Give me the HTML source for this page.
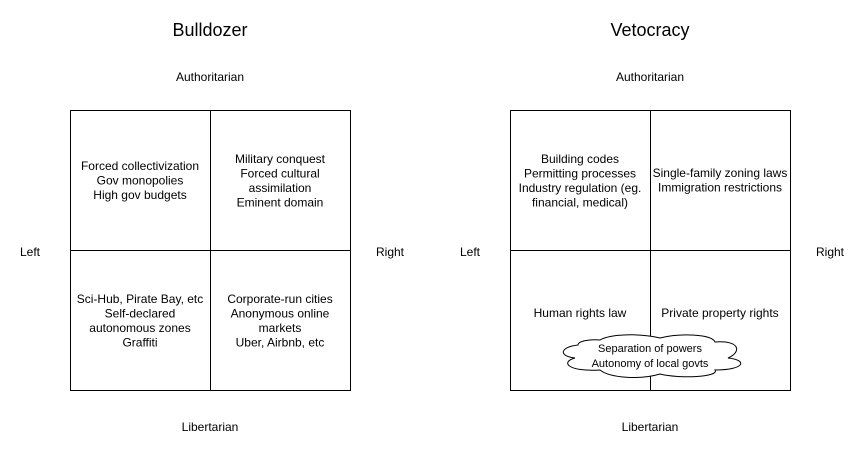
<!DOCTYPE html>
<html><head><style>body{margin:0;background:#fff}</style></head><body>
<svg width="861" height="451" xmlns="http://www.w3.org/2000/svg" font-family="Liberation Sans, sans-serif" font-size="12" text-anchor="middle" fill="#000">
<rect width="861" height="451" fill="#fff"/>
<g fill="none" stroke="#000" stroke-width="1">
<rect x="70.5" y="110.5" width="280" height="280"/>
<line x1="210.5" y1="110.5" x2="210.5" y2="390.5"/>
<line x1="70.5" y1="250.5" x2="350.5" y2="250.5"/>
<rect x="510.5" y="110.5" width="280" height="280"/>
<line x1="650.5" y1="110.5" x2="650.5" y2="390.5"/>
<line x1="510.5" y1="250.5" x2="790.5" y2="250.5"/>
</g>
<path d="M578,345 C560,347 558,356 575,358 C560,362 568,372 600,370 C610,378 640,380 660,374 C680,379 720,377 715,370 C745,370 748,360 728,358 C742,352 740,340 715,342 C712,334 680,333 660,338 C640,333 610,334 600,340 C590,339 578,341 578,345 Z" fill="#fff" stroke="#000" stroke-width="1"/>
<text x="210" y="36" font-size="18">Bulldozer</text>
<text x="650" y="36" font-size="18">Vetocracy</text>
<text x="210" y="81">Authoritarian</text>
<text x="650" y="81">Authoritarian</text>
<text x="210" y="431">Libertarian</text>
<text x="650" y="431">Libertarian</text>
<text x="30" y="256">Left</text>
<text x="390" y="256">Right</text>
<text x="470" y="256">Left</text>
<text x="830" y="256">Right</text>
<text x="140" y="170">Forced collectivization</text>
<text x="140" y="184.5">Gov monopolies</text>
<text x="140" y="199">High gov budgets</text>
<text x="280" y="163">Military conquest</text>
<text x="280" y="177.5">Forced cultural</text>
<text x="280" y="192">assimilation</text>
<text x="280" y="206.5">Eminent domain</text>
<text x="140" y="303">Sci-Hub, Pirate Bay, etc</text>
<text x="140" y="317.5">Self-declared</text>
<text x="140" y="332">autonomous zones</text>
<text x="140" y="346.5">Graffiti</text>
<text x="280" y="303">Corporate-run cities</text>
<text x="280" y="317.5">Anonymous online</text>
<text x="280" y="332">markets</text>
<text x="280" y="346.5">Uber, Airbnb, etc</text>
<text x="580" y="163">Building codes</text>
<text x="580" y="177.5">Permitting processes</text>
<text x="580" y="192">Industry regulation (eg.</text>
<text x="580" y="206.5">financial, medical)</text>
<text x="720" y="177">Single-family zoning laws</text>
<text x="720" y="191.5">Immigration restrictions</text>
<text x="580" y="317">Human rights law</text>
<text x="720" y="317">Private property rights</text>
<text x="650" y="352" font-size="11">Separation of powers</text>
<text x="650" y="367" font-size="11">Autonomy of local govts</text>
</svg>
</body></html>
